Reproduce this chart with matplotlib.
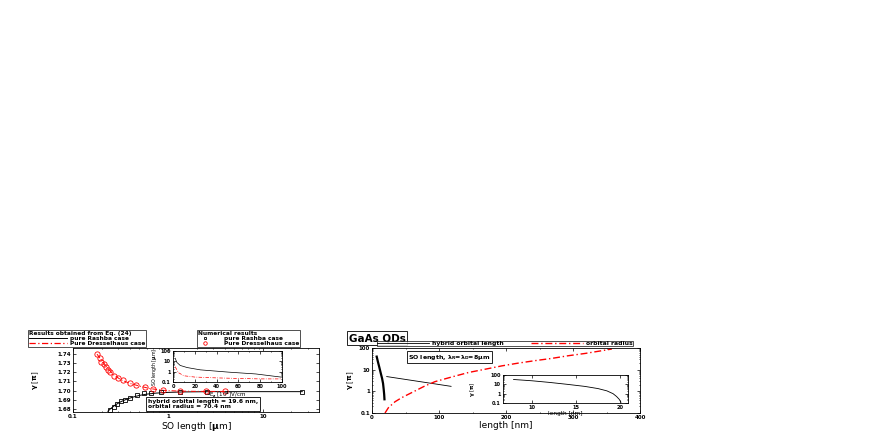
import numpy as np
import matplotlib
matplotlib.use("Agg")
import matplotlib.pyplot as plt
from matplotlib.ticker import FixedLocator, NullFormatter, LogLocator

plt.rcParams['font.family'] = ['DejaVu Sans']
plt.rcParams['font.weight'] = 'bold'
plt.rcParams['mathtext.default'] = 'bf'

# ****Left panel: numerical results (markers)****
rashba_num_x = [0.243, 0.268, 0.293, 0.318, 0.352, 0.401, 0.472, 0.555, 0.669, 0.85, 1.34, 2.57, 26.0]
rashba_num_y = [1.6794, 1.6822, 1.6858, 1.6884, 1.6902, 1.6920, 1.6956, 1.6974, 1.6974, 1.6981, 1.6988, 1.6989, 1.6989]
dressel_num_x = [0.179, 0.191, 0.199, 0.210, 0.221, 0.233, 0.247, 0.270, 0.297, 0.336, 0.395, 0.464,
                 0.567, 0.694, 0.886, 1.35, 2.5, 4.0]
dressel_num_y = [1.7396, 1.7353, 1.7317, 1.7288, 1.7256, 1.7227, 1.7198, 1.7165, 1.7136, 1.7111, 1.7082,
                 1.7057, 1.7039, 1.7017, 1.7003, 1.6995, 1.6992, 1.6991]

# ****Left panel: results from Eq. (24) (lines)****
rashba_eq_x = [0.233, 0.25, 0.28, 0.32, 0.37, 0.43, 0.5, 0.6, 0.75, 1.0, 1.5, 3.0, 10.0, 26.0]
rashba_eq_y = [1.6775, 1.6805, 1.6845, 1.6880, 1.6908, 1.6930, 1.6948, 1.6962, 1.6973, 1.6981, 1.6986, 1.6989, 1.6989, 1.6989]
dressel_eq_x = [0.179, 0.2, 0.23, 0.27, 0.32, 0.4, 0.5, 0.65, 0.9, 1.3, 2.0, 4.0]
dressel_eq_y = [1.7398, 1.7330, 1.7250, 1.7170, 1.7118, 1.7078, 1.7050, 1.7022, 1.7003, 1.6995, 1.6992, 1.6991]

# ****Left inset: SO length vs E_z****
inset_e_black = [2, 3.5, 6.6, 13, 25, 51, 76, 99]
inset_so_black = [20, 8, 4, 2.5, 1.5, 0.9, 0.6, 0.3]
inset_e_red = [2, 5, 10, 20, 40, 60, 80, 99]
inset_so_red = [3, 0.8, 0.4, 0.3, 0.25, 0.22, 0.2, 0.2]

# ****Right panel****
hyb_x = [7, 9, 11, 13, 15, 16.5, 17.5, 18.2, 18.6]
hyb_y = [40, 22, 12.6, 7, 4, 2.3, 1.2, 0.7, 0.43]
thin_x = [22, 118]
thin_y = [4.8, 1.7]
orb_x = [19.4, 24.4, 34.3, 44.3, 59.2, 79, 94, 119, 144, 169, 194, 218, 243, 268, 293, 318, 343, 358]
orb_y = [0.1, 0.174, 0.33, 0.51, 0.87, 1.77, 2.8, 4.6, 7.4, 10.5, 15, 20, 26, 33, 44, 56, 75, 90]
ins_len = [7.9, 10, 12, 14, 16, 17.5, 18.5, 19.2, 19.6, 19.9, 20.1]
ins_gam = [33, 24, 16, 10, 6, 3.5, 2.0, 1.0, 0.5, 0.25, 0.12]

W, H = 872.0, 436.0
fig = plt.figure(figsize=(8.72, 4.36), dpi=100)
DASHDOT = (0, (5, 2, 1, 2))


def px_axes(x0, y0, x1, y1):
    return fig.add_axes([x0 / W, 1 - y1 / H, (x1 - x0) / W, (y1 - y0) / H])


def style(ax, fs=4.0):
    ax.tick_params(which='both', direction='in', top=True, right=True, labelsize=fs,
                   width=0.5, pad=1.5)
    ax.tick_params(which='major', length=2)
    ax.tick_params(which='minor', length=1)
    for s in ax.spines.values():
        s.set_linewidth(0.6)


def log_ticks(ax, axis, vals, labels):
    a = ax.xaxis if axis == 'x' else ax.yaxis
    a.set_major_locator(FixedLocator(vals))
    a.set_minor_locator(LogLocator(base=10, subs=np.arange(2, 10)))
    a.set_minor_formatter(NullFormatter())
    if axis == 'x':
        ax.set_xticklabels(labels)
    else:
        ax.set_yticklabels(labels)


box = dict(boxstyle='square,pad=0.3', fc='white', ec='black', lw=0.6)

# ****Left main axes****
ax1 = px_axes(73, 348, 319, 412)
ax1.plot(rashba_eq_x, rashba_eq_y, color='black', lw=0.7)
ax1.plot(dressel_eq_x, dressel_eq_y, color='red', lw=0.7, ls=DASHDOT)
ax1.plot(rashba_num_x, rashba_num_y, ls='none', marker='s', ms=3, mfc='none', mec='black', mew=0.6)
ax1.plot(dressel_num_x, dressel_num_y, ls='none', marker='o', ms=3.8, mfc='none', mec='red', mew=0.6)
ax1.set_xscale('log')
ax1.set_xlim(0.1, 39)
ax1.set_ylim(1.6767, 1.7465)
log_ticks(ax1, 'x', [0.1, 1, 10], ['0.1', '1', '10'])
ax1.set_yticks([1.68, 1.69, 1.70, 1.71, 1.72, 1.73, 1.74])
ax1.set_yticklabels(['1.68', '1.69', '1.70', '1.71', '1.72', '1.73', '1.74'])
style(ax1)
ax1.set_xlabel('SO length [$\\mu$m]', fontsize=6.5, labelpad=1)
ax1.set_ylabel('$\\gamma$ [$\\pi$]', fontsize=5, labelpad=12)
ax1.text(0.305, 0.05, 'hybrid orbital length = 19.6 nm,\norbital radius = 70.4 nm',
         transform=ax1.transAxes, fontsize=4.3, linespacing=1.0, bbox=box, va='bottom')

# ****Left inset****
ax1i = px_axes(173, 351, 282, 382)
ax1i.plot(inset_e_black, inset_so_black, color='black', lw=0.5)
ax1i.plot(inset_e_red, inset_so_red, color='red', lw=0.5, ls=DASHDOT)
ax1i.set_yscale('log')
ax1i.set_xlim(0, 100)
ax1i.set_ylim(0.1, 100)
log_ticks(ax1i, 'y', [0.1, 1, 10, 100], ['0.1', '1', '10', '100'])
ax1i.set_xticks([0, 20, 40, 60, 80, 100])
ax1i.set_xticks([10, 30, 50, 70, 90], minor=True)
style(ax1i, fs=3.6)
ax1i.set_xlabel('E$_z$ [10$^4$]V/cm', fontsize=4.0, labelpad=0.5)
ax1i.set_ylabel('SO length [$\\mu$m]', fontsize=3.4, labelpad=1)

# ****Left legends****
h1, = ax1.plot([], [], color='black', lw=0.7)
h2, = ax1.plot([], [], color='red', lw=0.9, ls=DASHDOT)
leg1 = fig.legend([h1, h2], ['pure Rashba case', 'Pure Dresselhaus case'],
                  title='Results obtained from Eq. (24)', loc='upper left',
                  bbox_to_anchor=(28 / W, 1 - 330 / H), fontsize=4.2, title_fontsize=4.2,
                  frameon=True, fancybox=False, edgecolor='black', borderpad=0.15,
                  labelspacing=0.0, handlelength=6.5, handletextpad=0.5, borderaxespad=0)
leg1._legend_box.align = 'left'
leg1.get_frame().set_linewidth(0.6)
h3, = ax1.plot([], [], ls='none', marker='s', ms=2, mfc='none', mec='black', mew=0.6)
h4, = ax1.plot([], [], ls='none', marker='o', ms=2.5, mfc='none', mec='red', mew=0.6)
leg2 = fig.legend([h3, h4], ['pure Rashba case', 'Pure Dresselhaus case'],
                  title='Numerical results', loc='upper left',
                  bbox_to_anchor=(197 / W, 1 - 330 / H), fontsize=4.2, title_fontsize=4.2,
                  frameon=True, fancybox=False, edgecolor='black', borderpad=0.15,
                  labelspacing=0.0, handlelength=2.5, handletextpad=2.0, borderaxespad=0)
leg2._legend_box.align = 'left'
leg2.get_frame().set_linewidth(0.6)

# ****Right main axes****
ax2 = px_axes(372, 348, 640, 413)
ax2.plot(hyb_x, hyb_y, color='black', lw=1.6)
ax2.plot(thin_x, thin_y, color='black', lw=0.6)
ax2.plot(orb_x, orb_y, color='red', lw=1.0, ls=DASHDOT)
ax2.set_yscale('log')
ax2.set_xlim(0, 400)
ax2.set_ylim(0.1, 100)
log_ticks(ax2, 'y', [0.1, 1, 10, 100], ['0.1', '1', '10', '100'])
ax2.set_xticks([0, 100, 200, 300, 400])
ax2.set_xticks(np.arange(50, 400, 50), minor=True)
style(ax2)
ax2.set_xlabel('length [nm]', fontsize=6.5, labelpad=1)
ax2.set_ylabel('$\\gamma$ [$\\pi$]', fontsize=5, labelpad=2)
ax2.text(0.135, 0.86, 'SO length, $\\lambda_R$=$\\lambda_D$=8$\\mu$m', transform=ax2.transAxes,
         fontsize=4.5, bbox=dict(boxstyle='square,pad=0.2', fc='white', ec='black', lw=0.6),
         va='center')

h5, = ax2.plot([], [], color='black', lw=0.6)
h6, = ax2.plot([], [], color='red', lw=1.0, ls=DASHDOT)
leg3 = fig.legend([h5, h6], ['hybrid orbital length', 'orbital radius'], loc='upper left',
                  bbox_to_anchor=(377 / W, 1 - 341 / H), ncol=2, fontsize=4.4,
                  frameon=True, fancybox=False, edgecolor='black', borderpad=0.0,
                  handlelength=8.5, handletextpad=0.5, columnspacing=4.5, borderaxespad=0)
leg3.get_frame().set_linewidth(0.6)

fig.text(349 / W, 1 - 338 / H, 'GaAs QDs', fontsize=7.5, va='center', ha='left',
         bbox=dict(boxstyle='square,pad=0.15', fc='white', ec='black', lw=0.6))

# ****Right inset****
ax2i = px_axes(503, 375, 628, 403)
ax2i.plot(ins_len, ins_gam, color='black', lw=0.6)
ax2i.set_yscale('log')
ax2i.set_xlim(6.7, 20.9)
ax2i.set_ylim(0.1, 100)
log_ticks(ax2i, 'y', [0.1, 1, 10, 100], ['0.1', '1', '10', '100'])
ax2i.set_xticks([10, 15, 20])
style(ax2i, fs=3.6)
ax2i.set_xlabel('length [nm]', fontsize=4.2, labelpad=0.5)
ax2i.set_ylabel('$\\gamma$ [$\\pi$]', fontsize=4.0, labelpad=10)

fig.savefig('out.png', dpi=100)
